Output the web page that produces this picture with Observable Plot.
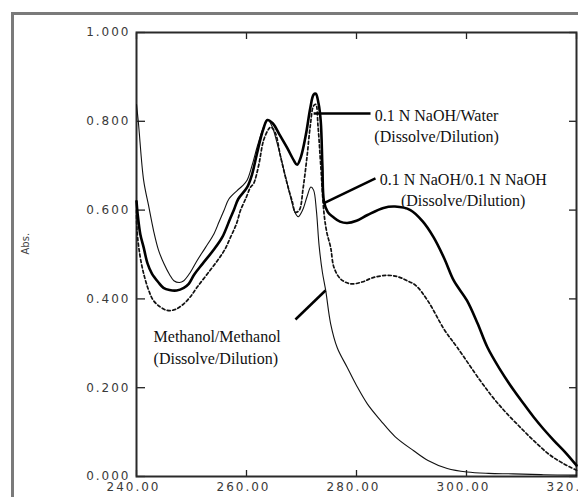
<!DOCTYPE html>
<html><head><meta charset="utf-8">
<script src="https://cdn.jsdelivr.net/npm/d3@7"></script>
<script src="https://cdn.jsdelivr.net/npm/@observablehq/plot@0.6"></script>
<style>
html,body{margin:0;padding:0;overflow:hidden;background:#fff;width:578px;height:497px}
#outer{position:absolute;left:11px;top:12px;width:900px;height:900px;border:3px solid #7a7a7a;box-sizing:border-box}
#chart{position:absolute;left:0;top:0}
</style></head><body>
<div id="outer"></div><div id="chart"></div>
<script>
// Methanol/Methanol (thin solid)
const methanolWl  = [240.0,240.36,241.3,242.2,243.1,244.0,245.0,246.0,246.8,247.8,248.6,249.8,251.0,252.5,254.1,255.0,255.9,256.8,258.3,259.3,260.1,261.0,262.0,263.1,263.8,264.6,265.8,267.0,268.0,268.8,269.4,270.2,271.0,271.7,272.2,272.7,273.2,273.8,274.4,275.3,276.5,278.3,280.0,282.0,284.4,287.0,290.4,293.0,296.5,300.1,304.0,308.5,314.0,320.0];
const methanolAbs = [0.838,0.795,0.667,0.610,0.554,0.510,0.479,0.455,0.441,0.437,0.441,0.460,0.486,0.515,0.547,0.573,0.599,0.625,0.644,0.655,0.667,0.700,0.745,0.787,0.804,0.790,0.740,0.680,0.630,0.595,0.585,0.600,0.630,0.652,0.645,0.600,0.520,0.460,0.419,0.344,0.290,0.246,0.205,0.163,0.126,0.090,0.058,0.036,0.018,0.010,0.007,0.006,0.004,0.003];
// 0.1 N NaOH/Water (thick solid)
const waterWl  = [240.0,240.2,240.7,241.3,242.0,242.8,244.0,244.9,246.0,247.3,248.6,249.5,250.5,252.0,254.0,255.6,257.0,257.7,258.5,260.1,261.0,261.9,263.0,263.8,264.8,266.0,267.4,268.6,269.2,269.9,270.8,271.6,272.2,272.6,273.1,273.5,273.8,274.1,274.8,275.8,277.0,278.3,280.0,282.0,284.9,287.0,289.8,292.0,294.0,296.0,297.7,300.1,302.0,303.8,306.0,308.6,310.5,312.2,314.0,315.9,318.0,320.0];
const waterAbs = [0.620,0.592,0.545,0.516,0.480,0.457,0.437,0.425,0.420,0.419,0.425,0.434,0.455,0.479,0.510,0.539,0.580,0.600,0.625,0.651,0.680,0.727,0.780,0.803,0.795,0.770,0.740,0.712,0.702,0.720,0.770,0.830,0.860,0.862,0.840,0.800,0.700,0.618,0.595,0.584,0.574,0.571,0.576,0.589,0.605,0.608,0.600,0.575,0.539,0.490,0.441,0.396,0.345,0.291,0.243,0.194,0.162,0.134,0.107,0.081,0.054,0.025];
// 0.1 N NaOH/0.1 N NaOH (dashed)
const naohWl  = [240.0,240.1,240.6,241.3,242.2,243.1,244.3,245.6,247.0,248.6,249.8,251.0,252.8,254.7,256.0,257.1,258.2,258.9,260.0,260.7,261.3,262.2,263.1,264.0,264.4,265.2,266.2,267.4,268.3,268.9,269.6,270.3,271.0,271.6,272.2,272.6,273.0,273.5,274.1,274.6,275.3,275.9,277.1,278.9,281.0,283.0,285.6,287.5,289.2,290.8,293.0,296.0,298.3,302.5,305.0,307.4,310.0,312.2,315.0,317.5,320.0];
const naohAbs = [0.600,0.554,0.500,0.457,0.420,0.396,0.382,0.374,0.376,0.389,0.405,0.426,0.455,0.486,0.510,0.539,0.570,0.599,0.630,0.651,0.660,0.700,0.757,0.782,0.787,0.775,0.720,0.659,0.620,0.595,0.600,0.650,0.720,0.790,0.835,0.838,0.790,0.700,0.592,0.550,0.516,0.471,0.445,0.434,0.438,0.448,0.453,0.450,0.441,0.430,0.395,0.330,0.291,0.216,0.175,0.141,0.108,0.081,0.050,0.030,0.014];

const xTicks = [240, 260, 280, 300, 320];
const yTicks = [0, 0.2, 0.4, 0.6, 0.8, 1.0];
const labels = ["0.1 N NaOH/Water\n(Dissolve/Dilution)", "0.1 N NaOH/0.1 N NaOH\n(Dissolve/Dilution)", "Methanol/Methanol\n(Dissolve/Dilution)"];
const yTitle = "Abs.";

const toRows = (wl, ab) => wl.map((w, i) => ({wl: w, abs: ab[i]}));
const methanol = toRows(methanolWl, methanolAbs);
const water = toRows(waterWl, waterAbs);
const naoh = toRows(naohWl, naohAbs);

const tickFont = {fontFamily: "DejaVu Sans", fontSize: 12, fill: "#3a3a3a"};
const serif = {fontFamily: "'Liberation Serif', 'Times New Roman', serif", fontSize: 16, fill: "#111", lineHeight: 1.35};

const chart = Plot.plot({
  width: 600, height: 497,
  marginLeft: 136, marginRight: 24, marginTop: 32, marginBottom: 21,
  style: {maxWidth: "none", overflow: "visible", background: "transparent"},
  x: {domain: [240, 320]},
  y: {domain: [0, 1]},
  marks: [
    Plot.axisY({ticks: yTicks, tickSize: 0, tickPadding: 6, tickFormat: d3.format(".3f"), label: null, ...tickFont}),
    Plot.axisY({ticks: yTicks, tickSize: -9, tickFormat: () => "", label: null, stroke: "#222", strokeWidth: 1.3}),
    Plot.axisY({anchor: "right", ticks: yTicks, tickSize: -8, tickFormat: () => "", label: null, stroke: "#222", strokeWidth: 1.3}),
    Plot.axisX({ticks: xTicks, tickSize: 0, tickPadding: 6, dx: -3, tickFormat: d3.format(".2f"), label: null, ...tickFont}),
    Plot.axisX({ticks: xTicks, tickSize: -6, tickFormat: () => "", label: null, stroke: "#222", strokeWidth: 1.3}),
    Plot.axisX({anchor: "top", ticks: xTicks, tickSize: -6, tickFormat: () => "", label: null, stroke: "#222", strokeWidth: 1.3}),
    Plot.frame({stroke: "#2a2a2a", strokeWidth: 2}),
    Plot.text([yTitle], {frameAnchor: "left", text: d => d, rotate: -90, dx: -111, fontFamily: "DejaVu Sans", fontSize: 10, fill: "#444"}),
    Plot.line(naoh, {x: "wl", y: "abs", curve: "catmull-rom", stroke: "#111", strokeWidth: 1.7, strokeDasharray: "3,2.5"}),
    Plot.line(methanol, {x: "wl", y: "abs", curve: "catmull-rom", stroke: "#111", strokeWidth: 1.1}),
    Plot.line(water, {x: "wl", y: "abs", curve: "catmull-rom", stroke: "#000", strokeWidth: 2.6}),
    // leader lines
    Plot.link([0], {x1: 272.2, y1: 0.8176, x2: 282.55, y2: 0.8176, stroke: "#000", strokeWidth: 2.5}),
    Plot.link([0], {x1: 274.0, y1: 0.6149, x2: 283.45, y2: 0.6712, stroke: "#000", strokeWidth: 2.5}),
    Plot.link([0], {x1: 268.9, y1: 0.3536, x2: 274.36, y2: 0.4189, stroke: "#000", strokeWidth: 2.5}),
    // annotations
    Plot.text([labels[0]], {x: 294.55, y: 0.793, text: d => d, textAnchor: "middle", ...serif}),
    Plot.text([labels[1]], {x: 299.4, y: 0.6486, text: d => d, textAnchor: "middle", ...serif}),
    Plot.text([labels[2]], {x: 243.1, y: 0.294, text: d => d, textAnchor: "start", ...serif})
  ]
});
d3.select(chart).selectAll('g[aria-label$="tick label"]').attr("letter-spacing", "2");
document.getElementById("chart").appendChild(chart);
</script>
</body></html>
